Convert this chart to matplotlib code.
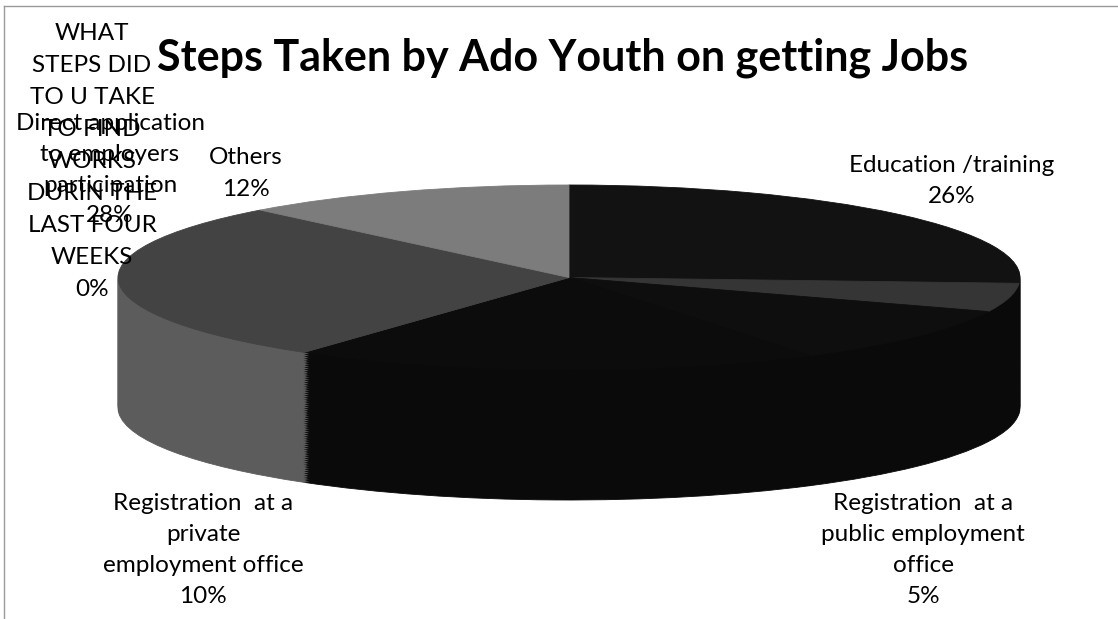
import matplotlib
matplotlib.use("Agg")
import matplotlib.pyplot as plt
from matplotlib.lines import Line2D

W, H = 1118, 619

# ---- data ----
title = "Steps Taken by Ado Youth on getting Jobs"
categories = [
    "Education /training",
    "Registration  at a\npublic employment\noffice",
    "Registration  at a\nprivate\nemployment office",
    "WHAT\nSTEPS DID\nTO U TAKE\nTO FIND\nWORKS\nDURIN THE\nLAST FOUR\nWEEKS",
    "Direct application\nto employers\nparticipation",
    "Others",
]
percent = [26, 5, 10, 0, 28, 12]
# share of the pie whose label is not visible in the chart (derived: 100 - labelled shares)
unlabelled = 100 - sum(percent)

# ---- styling ----
top_colors = ["#121212", "#353535", "#0e0e0e", "#444444", "#434343", "#7c7c7c"]
side_colors = ["#0a0a0a", "#0a0a0a", "#0a0a0a", "#5a5a5a", "#5c5c5c", "#6a6a6a"]
unl_top, unl_side = "#0c0c0c", "#0a0a0a"

# label layout: (x centre, first-line y, line spacing) in pixels
label_layout = [(952, 165, 32), (923, 503, 31.3), (203, 503, 31.3),
                (92, 33, 32.1), (110, 123, 31), (246, 157, 33)]

plt.rcParams["font.family"] = ["Lato", "DejaVu Sans"]

fig = plt.figure(figsize=(W / 100, H / 100), dpi=100)
fig.patch.set_facecolor("white")

# pie values in drawing order (unlabelled share sits between private office and the 0% row)
vals = percent[:3] + [unlabelled] + percent[3:]
tops = top_colors[:3] + [unl_top] + top_colors[3:]
sides = side_colors[:3] + [unl_side] + side_colors[3:]

# axes spanning the pie: x 118..1020 px, y 185..500 px
ax = fig.add_axes([118 / W, (H - 500) / H, 902 / W, 315 / H])
ry_px = 92.5
depth = 130 / ry_px
N = 70
for k in range(N, 0, -1):
    off = -depth * k / N
    ax.pie(vals, colors=sides, startangle=90, counterclock=False,
           center=(0, off), radius=1,
           wedgeprops=dict(linewidth=0.6))
    for w, c in zip(ax.patches[-len(vals):], sides):
        w.set_edgecolor(c)
ax.pie(vals, colors=tops, startangle=90, counterclock=False,
       center=(0, 0), radius=1, wedgeprops=dict(linewidth=0.6))
for w, c in zip(ax.patches[-len(vals):], tops):
    w.set_edgecolor(c)
ax.set_aspect("auto")
ax.set_xlim(-1, 1)
ax.set_ylim(-1 - depth, 1)
ax.axis("off")


def px_text(x, y, s, **kw):
    fig.text(x / W, 1 - y / H, s, ha="center", va="center", **kw)


px_text(563, 58, title, fontsize=31, fontweight="bold", color="black")

for cat, p, (x, y0, dy) in zip(categories, percent, label_layout):
    lines = cat.split("\n") + [f"{p}%"]
    for i, ln in enumerate(lines):
        px_text(x, y0 + i * dy, ln, fontsize=17.5, color="black")

# frame lines of the scanned chart
fig.add_artist(Line2D([4 / W, 4 / W], [0, 1 - 6 / H], color="#9a9a9a", lw=1,
                      transform=fig.transFigure))
fig.add_artist(Line2D([4 / W, 1], [1 - 6 / H, 1 - 6 / H], color="#9a9a9a", lw=1,
                      transform=fig.transFigure))

fig.savefig("out.png", dpi=100, facecolor="white")
